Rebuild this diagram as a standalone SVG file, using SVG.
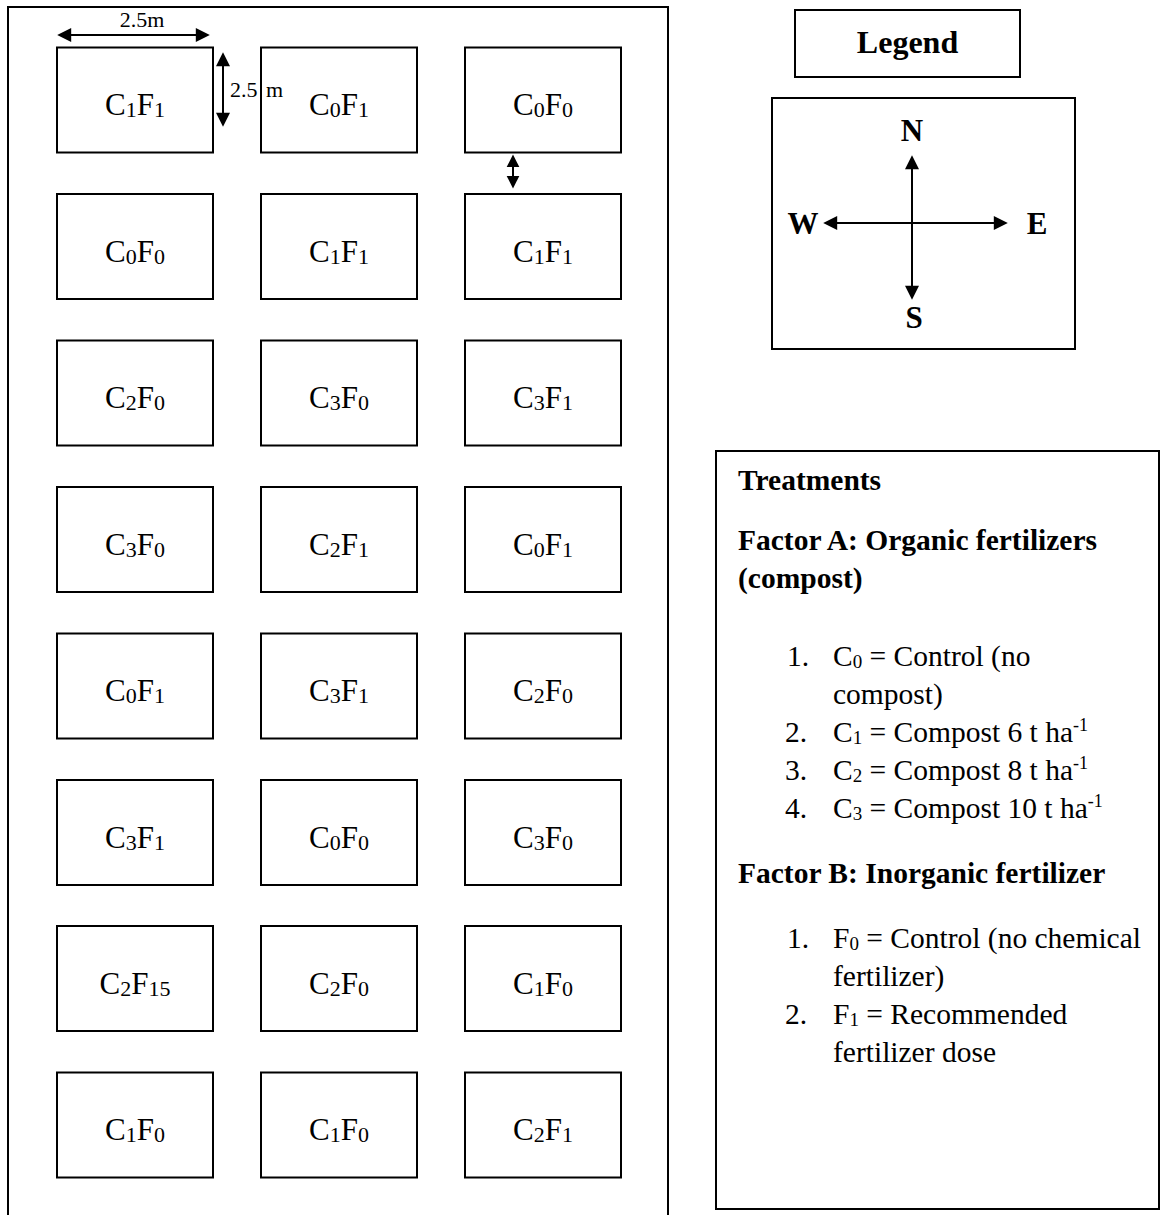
<svg xmlns="http://www.w3.org/2000/svg" width="1162" height="1215" viewBox="0 0 1162 1215">
<defs>
<style>
.box{fill:#fff;stroke:#000;stroke-width:2}
.ln{fill:none;stroke:#000;stroke-width:2}
.t{font-family:"Liberation Serif","Times New Roman",serif;fill:#000}
.pl{font-size:31px;text-anchor:middle}
.s{font-size:22px}
.tr{font-size:29.5px}
.b{font-weight:bold}
.sup{font-size:18px}
.ts{font-size:19px}
.dim{font-size:22px}
.cp{font-size:31px;font-weight:bold;text-anchor:middle}
</style>
<marker id="ah" viewBox="0 0 10 10" refX="8" refY="5" markerWidth="15" markerHeight="14" markerUnits="userSpaceOnUse" orient="auto-start-reverse"><path d="M0,0 L10,5 L0,10 z" fill="#000"/></marker>
<marker id="ahs" viewBox="0 0 10 10" refX="8" refY="5" markerWidth="13" markerHeight="15" markerUnits="userSpaceOnUse" orient="auto-start-reverse"><path d="M0,0 L10,5 L0,10 z" fill="#000"/></marker>
</defs>
<rect width="1162" height="1215" fill="#fff"/>

<g id="field">
<path class="ln" d="M8,1220 V7 H668 V1220"/>
</g>

<g id="plots" class="t">
<g id="p11"><rect class="box" x="57" y="47.5" width="156" height="105"/><text class="t pl" x="135" y="115">C<tspan class="s" dy="2">1</tspan><tspan dy="-2">F</tspan><tspan class="s" dy="2">1</tspan></text></g>
<g id="p12"><rect class="box" x="261" y="47.5" width="156" height="105"/><text class="t pl" x="339" y="115">C<tspan class="s" dy="2">0</tspan><tspan dy="-2">F</tspan><tspan class="s" dy="2">1</tspan></text></g>
<g id="p13"><rect class="box" x="465" y="47.5" width="156" height="105"/><text class="t pl" x="543" y="115">C<tspan class="s" dy="2">0</tspan><tspan dy="-2">F</tspan><tspan class="s" dy="2">0</tspan></text></g>

<g id="p21"><rect class="box" x="57" y="194" width="156" height="105"/><text class="t pl" x="135" y="261.5">C<tspan class="s" dy="2">0</tspan><tspan dy="-2">F</tspan><tspan class="s" dy="2">0</tspan></text></g>
<g id="p22"><rect class="box" x="261" y="194" width="156" height="105"/><text class="t pl" x="339" y="261.5">C<tspan class="s" dy="2">1</tspan><tspan dy="-2">F</tspan><tspan class="s" dy="2">1</tspan></text></g>
<g id="p23"><rect class="box" x="465" y="194" width="156" height="105"/><text class="t pl" x="543" y="261.5">C<tspan class="s" dy="2">1</tspan><tspan dy="-2">F</tspan><tspan class="s" dy="2">1</tspan></text></g>

<g id="p31"><rect class="box" x="57" y="340.5" width="156" height="105"/><text class="t pl" x="135" y="408">C<tspan class="s" dy="2">2</tspan><tspan dy="-2">F</tspan><tspan class="s" dy="2">0</tspan></text></g>
<g id="p32"><rect class="box" x="261" y="340.5" width="156" height="105"/><text class="t pl" x="339" y="408">C<tspan class="s" dy="2">3</tspan><tspan dy="-2">F</tspan><tspan class="s" dy="2">0</tspan></text></g>
<g id="p33"><rect class="box" x="465" y="340.5" width="156" height="105"/><text class="t pl" x="543" y="408">C<tspan class="s" dy="2">3</tspan><tspan dy="-2">F</tspan><tspan class="s" dy="2">1</tspan></text></g>

<g id="p41"><rect class="box" x="57" y="487" width="156" height="105"/><text class="t pl" x="135" y="554.5">C<tspan class="s" dy="2">3</tspan><tspan dy="-2">F</tspan><tspan class="s" dy="2">0</tspan></text></g>
<g id="p42"><rect class="box" x="261" y="487" width="156" height="105"/><text class="t pl" x="339" y="554.5">C<tspan class="s" dy="2">2</tspan><tspan dy="-2">F</tspan><tspan class="s" dy="2">1</tspan></text></g>
<g id="p43"><rect class="box" x="465" y="487" width="156" height="105"/><text class="t pl" x="543" y="554.5">C<tspan class="s" dy="2">0</tspan><tspan dy="-2">F</tspan><tspan class="s" dy="2">1</tspan></text></g>

<g id="p51"><rect class="box" x="57" y="633.5" width="156" height="105"/><text class="t pl" x="135" y="701">C<tspan class="s" dy="2">0</tspan><tspan dy="-2">F</tspan><tspan class="s" dy="2">1</tspan></text></g>
<g id="p52"><rect class="box" x="261" y="633.5" width="156" height="105"/><text class="t pl" x="339" y="701">C<tspan class="s" dy="2">3</tspan><tspan dy="-2">F</tspan><tspan class="s" dy="2">1</tspan></text></g>
<g id="p53"><rect class="box" x="465" y="633.5" width="156" height="105"/><text class="t pl" x="543" y="701">C<tspan class="s" dy="2">2</tspan><tspan dy="-2">F</tspan><tspan class="s" dy="2">0</tspan></text></g>

<g id="p61"><rect class="box" x="57" y="780" width="156" height="105"/><text class="t pl" x="135" y="847.5">C<tspan class="s" dy="2">3</tspan><tspan dy="-2">F</tspan><tspan class="s" dy="2">1</tspan></text></g>
<g id="p62"><rect class="box" x="261" y="780" width="156" height="105"/><text class="t pl" x="339" y="847.5">C<tspan class="s" dy="2">0</tspan><tspan dy="-2">F</tspan><tspan class="s" dy="2">0</tspan></text></g>
<g id="p63"><rect class="box" x="465" y="780" width="156" height="105"/><text class="t pl" x="543" y="847.5">C<tspan class="s" dy="2">3</tspan><tspan dy="-2">F</tspan><tspan class="s" dy="2">0</tspan></text></g>

<g id="p71"><rect class="box" x="57" y="926" width="156" height="105"/><text class="t pl" x="135" y="993.5">C<tspan class="s" dy="2">2</tspan><tspan dy="-2">F</tspan><tspan class="s" dy="2">15</tspan></text></g>
<g id="p72"><rect class="box" x="261" y="926" width="156" height="105"/><text class="t pl" x="339" y="993.5">C<tspan class="s" dy="2">2</tspan><tspan dy="-2">F</tspan><tspan class="s" dy="2">0</tspan></text></g>
<g id="p73"><rect class="box" x="465" y="926" width="156" height="105"/><text class="t pl" x="543" y="993.5">C<tspan class="s" dy="2">1</tspan><tspan dy="-2">F</tspan><tspan class="s" dy="2">0</tspan></text></g>

<g id="p81"><rect class="box" x="57" y="1072.5" width="156" height="105"/><text class="t pl" x="135" y="1140">C<tspan class="s" dy="2">1</tspan><tspan dy="-2">F</tspan><tspan class="s" dy="2">0</tspan></text></g>
<g id="p82"><rect class="box" x="261" y="1072.5" width="156" height="105"/><text class="t pl" x="339" y="1140">C<tspan class="s" dy="2">1</tspan><tspan dy="-2">F</tspan><tspan class="s" dy="2">0</tspan></text></g>
<g id="p83"><rect class="box" x="465" y="1072.5" width="156" height="105"/><text class="t pl" x="543" y="1140">C<tspan class="s" dy="2">2</tspan><tspan dy="-2">F</tspan><tspan class="s" dy="2">1</tspan></text></g>
</g>

<g id="connectors">
<line class="ln" x1="60" y1="35" x2="207" y2="35" marker-start="url(#ah)" marker-end="url(#ah)"/>
<line class="ln" x1="223" y1="55" x2="223" y2="124" marker-start="url(#ah)" marker-end="url(#ah)"/>
<line class="ln" x1="513" y1="157" x2="513" y2="186" marker-start="url(#ahs)" marker-end="url(#ahs)"/>
</g>

<g id="dims">
<text class="t dim" x="142" y="27" text-anchor="middle">2.5m</text>
<text class="t dim" x="230" y="97">2.5<tspan x="266">m</tspan></text>
</g>

<g id="legend-title">
<rect class="box" x="795" y="10" width="225" height="67"/>
<text class="t b" x="907.5" y="53" font-size="32" text-anchor="middle">Legend</text>
</g>

<g id="compass">
<rect class="box" x="772" y="98" width="303" height="251"/>
<line class="ln" x1="912" y1="223" x2="912" y2="158" marker-end="url(#ah)"/>
<line class="ln" x1="912" y1="223" x2="912" y2="297" marker-end="url(#ah)"/>
<line class="ln" x1="912" y1="223" x2="826" y2="223" marker-end="url(#ah)"/>
<line class="ln" x1="912" y1="223" x2="1005" y2="223" marker-end="url(#ah)"/>
<text class="t cp" x="912" y="141">N</text>
<text class="t cp" x="803" y="234">W</text>
<text class="t cp" x="1037" y="234">E</text>
<text class="t cp" x="914" y="328">S</text>
</g>

<g id="treatments">
<rect class="box" x="716" y="451" width="443" height="758"/>
<text class="t tr b" x="738" y="490">Treatments</text>
<text class="t tr b" x="738" y="550">Factor A: Organic fertilizers</text>
<text class="t tr b" x="738" y="588">(compost)</text>
<text class="t tr" x="787" y="666">1.</text>
<text class="t tr" x="833" y="666">C<tspan class="ts" dy="2">0</tspan><tspan dy="-2"> = Control (no</tspan></text>
<text class="t tr" x="833" y="704">compost)</text>
<text class="t tr" x="785" y="742">2.</text>
<text class="t tr" x="833" y="742">C<tspan class="ts" dy="2">1</tspan><tspan dy="-2"> = Compost 6 t ha</tspan><tspan class="sup" dy="-11">-1</tspan></text>
<text class="t tr" x="785" y="780">3.</text>
<text class="t tr" x="833" y="780">C<tspan class="ts" dy="2">2</tspan><tspan dy="-2"> = Compost 8 t ha</tspan><tspan class="sup" dy="-11">-1</tspan></text>
<text class="t tr" x="785" y="818">4.</text>
<text class="t tr" x="833" y="818">C<tspan class="ts" dy="2">3</tspan><tspan dy="-2"> = Compost 10 t ha</tspan><tspan class="sup" dy="-11">-1</tspan></text>
<text class="t tr b" x="738" y="883">Factor B: Inorganic fertilizer</text>
<text class="t tr" x="787" y="948">1.</text>
<text class="t tr" x="833" y="948">F<tspan class="ts" dy="2">0</tspan><tspan dy="-2"> = Control (no chemical</tspan></text>
<text class="t tr" x="833" y="986">fertilizer)</text>
<text class="t tr" x="785" y="1024">2.</text>
<text class="t tr" x="833" y="1024">F<tspan class="ts" dy="2">1</tspan><tspan dy="-2"> = Recommended</tspan></text>
<text class="t tr" x="833" y="1062">fertilizer dose</text>
</g>
</svg>
